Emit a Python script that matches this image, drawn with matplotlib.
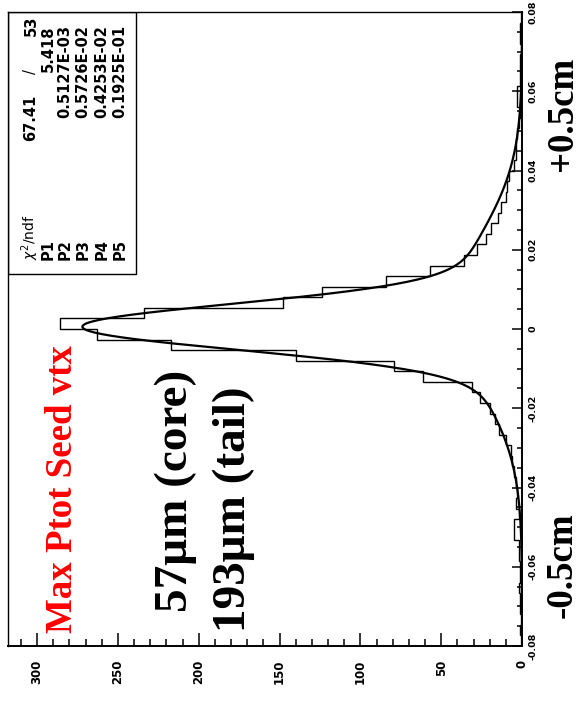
import numpy as np
import matplotlib
matplotlib.use("Agg")
import matplotlib.pyplot as plt
from matplotlib.ticker import MultipleLocator, FixedLocator, FixedFormatter
from matplotlib.patches import Rectangle

W, H, DPI = 581, 711, 100

# ---------------- data ----------------
hist_lo, hist_hi = -0.08, 0.08
counts = [0, 1, 0, 1, 1, 2, 1, 1, 2, 2,
          5, 5, 2, 4, 3, 4, 5, 6, 7, 10,
          14, 17, 20, 26, 31, 61, 79, 140, 217, 263,
          286, 234, 148, 124, 84, 57, 36, 28, 22, 19,
          15, 13, 10, 9, 8, 5, 4, 4, 3, 2,
          1, 3, 3, 1, 1, 1, 0, 1, 1, 0]

# fit: norm * (P1*G(P2,P3) + G(P4,P5))
P1, P2, P3, P4, P5 = 5.418, 0.5127e-03, 0.5726e-02, 0.4253e-02, 0.1925e-01
fit_norm = 42.5

chi2_val, ndf_val = "67.41", "53"
stat_labels = ["P1", "P2", "P3", "P4", "P5"]
stat_values = ["5.418", "0.5127E-03", "0.5726E-02", "0.4253E-02", "0.1925E-01"]

count_ticks = [0, 50, 100, 150, 200, 250, 300]
count_labels = ["0", "50", "100", "150", "200", "250", "300"]
pos_ticks = [-0.08, -0.06, -0.04, -0.02, 0.0, 0.02, 0.04, 0.06, 0.08]
pos_labels = ["-0.08", "-0.06", "-0.04", "-0.02", "0", "0.02", "0.04", "0.06", "0.08"]

title_text = "Max Ptot Seed vtx"
core_text = "57\u03bcm (core)"
tail_text = "193\u03bcm (tail)"
minus_text = "-0.5cm"
plus_text = "+0.5cm"

# ---------------- figure ----------------
fig = plt.figure(figsize=(W / DPI, H / DPI), dpi=DPI)
fig.patch.set_facecolor("white")

# axes placed in pixel coordinates: x 8..522, y 12..646 (from top)
ax = fig.add_axes([8 / W, 1 - 646 / H, 514 / W, 634 / H])
ax.set_facecolor("white")

edges = np.linspace(hist_lo, hist_hi, len(counts) + 1)
ax.stairs(counts, edges, orientation="horizontal", color="black",
          linewidth=1.0, baseline=0)

xs = np.linspace(hist_lo, hist_hi, 800)
fit = fit_norm * (P1 * np.exp(-0.5 * ((xs - P2) / P3) ** 2)
                  + np.exp(-0.5 * ((xs - P4) / P5) ** 2))
ax.plot(fit, xs, color="black", linewidth=1.6)

ax.set_xlim(318, 0)
ax.set_ylim(hist_lo, hist_hi)

# ticks
ax.yaxis.tick_right()
ax.xaxis.tick_bottom()
ax.xaxis.set_major_locator(FixedLocator(count_ticks))
ax.xaxis.set_major_formatter(FixedFormatter(count_labels))
ax.xaxis.set_minor_locator(MultipleLocator(10))
ax.yaxis.set_major_locator(FixedLocator(pos_ticks))
ax.yaxis.set_major_formatter(FixedFormatter(pos_labels))
ax.yaxis.set_minor_locator(MultipleLocator(0.005))

ax.tick_params(axis="x", which="major", direction="in", length=9.4, width=1.1,
               pad=10, labelsize=8.5, labelrotation=90)
ax.tick_params(axis="x", which="minor", direction="in", length=5, width=1.1)
ax.tick_params(axis="y", which="major", direction="in", length=7, width=1.1,
               pad=5, labelsize=6.8, labelrotation=90)
ax.tick_params(axis="y", which="minor", direction="in", length=3.6, width=1.1)
for lab in ax.get_xticklabels():
    lab.set_fontweight("bold")
    lab.set_fontfamily("DejaVu Sans")
    lab.set_va("top")
    lab.set_ha("center")
for lab in ax.get_yticklabels():
    lab.set_fontweight("bold")
    lab.set_fontfamily("DejaVu Sans")
    lab.set_va("center")
    lab.set_ha("left")

for side in ["bottom", "right"]:
    ax.spines[side].set_linewidth(1.4)
for side in ["top", "left"]:
    ax.spines[side].set_linewidth(1.0)

# stats box (pixel x 8..136, y 12..274)
bx = (136 - 8) / 514
by = (646 - 274) / 634
ax.add_patch(Rectangle((0, by), bx, 1 - by, transform=ax.transAxes,
                       fill=False, edgecolor="black", linewidth=1.0, zorder=5))


def fx(x):
    return x / W


def fy(y):
    return 1 - y / H


stat_font = dict(family="DejaVu Sans", fontsize=10.5, fontweight="bold")
# chi2 row
fig.text(fx(30), fy(260), r"$\chi^2$/ndf", rotation=90, rotation_mode="anchor",
         ha="left", va="center", family="DejaVu Sans", fontsize=10)
fig.text(fx(31), fy(95), chi2_val, rotation=90, rotation_mode="anchor",
         ha="right", va="center", **stat_font)
fig.text(fx(31), fy(72), "/", rotation=90, rotation_mode="anchor",
         ha="center", va="center", family="DejaVu Sans", fontsize=10.5)
fig.text(fx(31), fy(16), ndf_val, rotation=90, rotation_mode="anchor",
         ha="right", va="center", **stat_font)
row_x = [48, 65, 83, 102, 120]
for rx, lab, val in zip(row_x, stat_labels, stat_values):
    fig.text(fx(rx), fy(260), lab, rotation=90, rotation_mode="anchor",
             ha="left", va="center", **stat_font)
    fig.text(fx(rx), fy(25), val, rotation=90, rotation_mode="anchor",
             ha="right", va="center", **stat_font)

serif = dict(family="Liberation Serif", fontweight="bold", rotation=90,
             rotation_mode="anchor", ha="left", va="baseline")
fig.text(fx(72), fy(633), title_text, color="red", fontsize=26.6, **serif)
fig.text(fx(187), fy(612), core_text, color="black", fontsize=34, **serif)
fig.text(fx(245), fy(632), tail_text, color="black", fontsize=34, **serif)
fig.text(fx(572), fy(618), minus_text, color="black", fontsize=26.6, **serif)
fig.text(fx(572), fy(171), plus_text, color="black", fontsize=26.6, **serif)

fig.savefig("out.png", dpi=DPI, facecolor="white")
